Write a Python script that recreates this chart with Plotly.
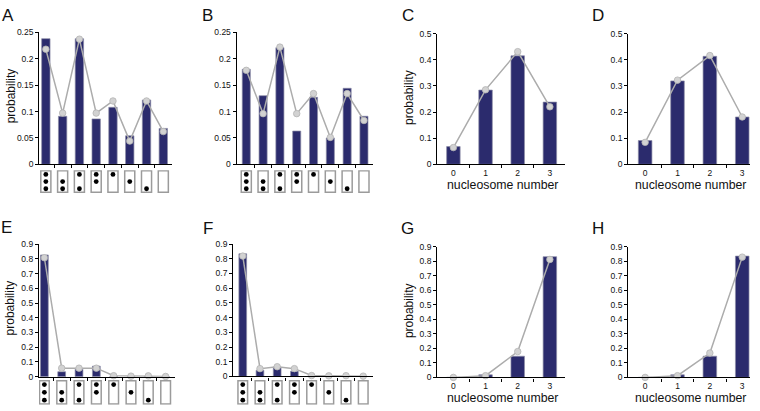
import plotly.graph_objects as go

# ---------------- data ----------------
# occupancy patterns of the three nucleosome positions (top, middle, bottom)
patterns = [[1, 1, 1], [0, 1, 1], [1, 0, 1], [1, 1, 0], [1, 0, 0], [0, 1, 0], [0, 0, 1], [0, 0, 0]]
pattern_idx = list(range(len(patterns)))
nuc_numbers = [0, 1, 2, 3]
nuc_ticklabels = ["0", "1", "2", "3"]

A_bar = [0.238, 0.091, 0.238, 0.086, 0.108, 0.054, 0.122, 0.068]
A_line = [0.218, 0.097, 0.237, 0.097, 0.120, 0.044, 0.120, 0.062]
B_bar = [0.180, 0.130, 0.221, 0.063, 0.127, 0.050, 0.144, 0.091]
B_line = [0.178, 0.096, 0.222, 0.096, 0.134, 0.051, 0.134, 0.083]
C_bar = [0.068, 0.284, 0.415, 0.238]
C_line = [0.064, 0.285, 0.431, 0.220]
D_bar = [0.091, 0.319, 0.413, 0.181]
D_line = [0.084, 0.322, 0.416, 0.181]
E_bar = [0.826, 0.034, 0.051, 0.072, 0.003, 0.002, 0.002, 0.001]
E_line = [0.807, 0.058, 0.058, 0.058, 0.007, 0.004, 0.006, 0.002]
F_bar = [0.834, 0.042, 0.064, 0.035, 0.003, 0.002, 0.002, 0.001]
F_line = [0.818, 0.053, 0.066, 0.053, 0.006, 0.004, 0.005, 0.002]
G_bar = [0.0, 0.018, 0.146, 0.831]
G_line = [0.0, 0.012, 0.178, 0.812]
H_bar = [0.0, 0.018, 0.146, 0.835]
H_line = [0.0, 0.012, 0.168, 0.828]

# ---------------- styling / layout ----------------
W, H = 760, 411
FONT = "Liberation Sans, Arial, Helvetica, sans-serif"
NAVY = "#2b2b6d"
LINEGRAY = "#acacac"
PTFILL = "#d2d2d2"
BOXGRAY = "#9b9b9b"


def px(x):
    return x / W


def py(y):
    return 1 - y / H


panels = {
    "A": dict(xpx=(39.3, 171.7), xr=(-0.39, 7.5), ypx=(28, 163.3), yr=(0, 0.25), dt=0.05, kind="pat", pat=(170, 192), bw=0.5, bx=0.6, bar=A_bar, line=A_line, ytitle=True),
    "B": dict(xpx=(236.7, 372.7), xr=(-0.57, 7.52), ypx=(28, 163.3), yr=(0, 0.25), dt=0.05, kind="pat", pat=(170, 192), bw=0.48, bx=0.6, bar=B_bar, line=B_line, ytitle=False),
    "C": dict(xpx=(437.3, 565), xr=(-0.5, 3.47), ypx=(29.3, 163.3), yr=(0, 0.5), dt=0.1, kind="nuc", bw=0.42, bar=C_bar, line=C_line, ytitle=True),
    "D": dict(xpx=(628.3, 750), xr=(-0.52, 3.24), ypx=(29.3, 163.3), yr=(0, 0.5), dt=0.1, kind="nuc", bw=0.42, bar=D_bar, line=D_line, ytitle=False),
    "E": dict(xpx=(39, 175), xr=(-0.31, 7.54), ypx=(245, 381), yr=(0, 0.9), dt=0.1, kind="pat", pat=(385, 409), bw=0.45, bx=0.56, bar=E_bar, line=E_line, ytitle=True),
    "F": dict(xpx=(233.3, 372.7), xr=(-0.55, 7.55), ypx=(245, 380.7), yr=(0, 0.9), dt=0.1, kind="pat", pat=(385, 409), bw=0.45, bx=0.56, bar=F_bar, line=F_line, ytitle=False),
    "G": dict(xpx=(437.3, 565), xr=(-0.5, 3.47), ypx=(247.7, 381.7), yr=(0, 0.9), dt=0.1, kind="nuc", bw=0.42, bar=G_bar, line=G_line, ytitle=True),
    "H": dict(xpx=(628.3, 750), xr=(-0.52, 3.24), ypx=(247.7, 381.7), yr=(0, 0.9), dt=0.1, kind="nuc", bw=0.42, bar=H_bar, line=H_line, ytitle=False),
}

label_pos = {"A": (8, 11), "B": (207, 11), "C": (407.5, 11), "D": (597.5, 11),
             "E": (6, 228), "F": (207.5, 229), "G": (407.5, 229), "H": (598, 229)}
ytitle_x = {"A": 11, "C": 409, "E": 10, "G": 409}

fig = go.Figure()
layout = dict(width=W, height=H, margin=dict(l=0, r=0, t=0, b=0),
              paper_bgcolor="white", plot_bgcolor="rgba(0,0,0,0)",
              showlegend=False, barmode="overlay",
              font=dict(family=FONT, color="#111111"))
annotations = []

pat_axis_n = 9
for i, (name, p) in enumerate(panels.items(), start=1):
    xa = "x" if i == 1 else f"x{i}"
    ya = "y" if i == 1 else f"y{i}"
    xkey = "xaxis" if i == 1 else f"xaxis{i}"
    ykey = "yaxis" if i == 1 else f"yaxis{i}"
    xs = pattern_idx if p["kind"] == "pat" else nuc_numbers

    fig.add_trace(go.Bar(x=xs, y=p["bar"], xaxis=xa, yaxis=ya, width=p["bw"],
                         marker=dict(color=NAVY, line=dict(color="#8c8ca6", width=0.7))))
    fig.add_trace(go.Scatter(x=xs, y=p["line"], xaxis=xa, yaxis=ya, mode="lines+markers",
                             line=dict(color=LINEGRAY, width=1.5),
                             marker=dict(size=6.5, color=PTFILL, line=dict(color="#b4b4b4", width=0.8)),
                             cliponaxis=False))

    nseg = len(xs)
    xaxis = dict(domain=[px(p["xpx"][0]), px(p["xpx"][1])], range=list(p["xr"]), anchor=ya,
                 showline=True, linecolor="black", linewidth=1.3, showgrid=False, zeroline=False,
                 fixedrange=True)
    if p["kind"] == "pat":
        xaxis.update(tickmode="array", tickvals=[k + 0.5 for k in range(nseg - 1)],
                     showticklabels=False, ticks="outside", ticklen=3, tickwidth=1, tickcolor="black")
    else:
        xaxis.update(tickmode="array", tickvals=nuc_numbers, ticktext=nuc_ticklabels,
                     ticks="", tickfont=dict(size=8.5, family=FONT, color="#111111"),
                     minor=dict(tickmode="array", tickvals=[k + 0.5 for k in range(nseg - 1)],
                                ticks="outside", ticklen=3, tickwidth=1, tickcolor="black"))
        annotations.append(dict(text="nucleosome number", xref="paper", yref="paper",
                                x=px((p["xpx"][0] + p["xpx"][1]) / 2 + 1), y=py(p["ypx"][1] + 21),
                                xanchor="center", yanchor="middle", showarrow=False,
                                font=dict(size=12.3, family=FONT, color="#111111")))
    yaxis = dict(domain=[py(p["ypx"][1]), py(p["ypx"][0])], range=list(p["yr"]), anchor=xa,
                 showline=True, linecolor="black", linewidth=1.3, showgrid=False, zeroline=False,
                 tickmode="linear", tick0=0, dtick=p["dt"], ticks="outside", ticklen=3,
                 tickwidth=1, tickcolor="black", tickfont=dict(size=8.5, family=FONT, color="#111111"),
                 fixedrange=True)
    layout[xkey] = xaxis
    layout[ykey] = yaxis

    if p["kind"] == "pat":
        pa = f"y{pat_axis_n}"
        pkey = f"yaxis{pat_axis_n}"
        top, bot = p["pat"]
        u = (bot - top) / 3.0
        layout[pkey] = dict(domain=[py(bot + 0.1 * u), py(top - 0.1 * u)], range=[-0.1, 3.1],
                            anchor=xa, visible=False, fixedrange=True)
        nslots = len(patterns[0])
        fig.add_trace(go.Bar(x=xs, y=[nslots] * nseg, xaxis=xa, yaxis=pa, width=p["bx"],
                             marker=dict(color="white", line=dict(color=BOXGRAY, width=1.5))))
        dx, dy = [], []
        for k, pat in enumerate(patterns):
            for s, occ in enumerate(pat):
                if occ:
                    dx.append(pattern_idx[k])
                    dy.append(nslots - s - 0.5)
        fig.add_trace(go.Scatter(x=dx, y=dy, xaxis=xa, yaxis=pa, mode="markers",
                                 marker=dict(size=4.8, color="black"), cliponaxis=False))
        pat_axis_n += 1

    lx, ly = label_pos[name]
    annotations.append(dict(text=name, xref="paper", yref="paper", x=px(lx), y=py(ly),
                            xanchor="center", yanchor="middle", showarrow=False,
                            font=dict(size=17, family=FONT, color="#111111")))
    if p["ytitle"]:
        annotations.append(dict(text="probability", xref="paper", yref="paper",
                                x=px(ytitle_x[name]), y=py((p["ypx"][0] + p["ypx"][1]) / 2 - 2),
                                xanchor="center", yanchor="middle", textangle=-90, showarrow=False,
                                font=dict(size=12, family=FONT, color="#111111")))

layout["annotations"] = annotations
fig.update_layout(**layout)
fig.write_html("out.html", config={"displayModeBar": False},
               post_script="document.body.style.margin='0px';document.body.style.overflow='hidden';")
